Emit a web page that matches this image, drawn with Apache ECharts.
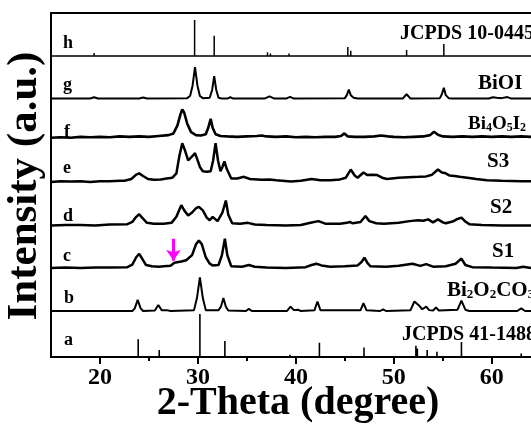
<!DOCTYPE html>
<html>
<head>
<meta charset="utf-8">
<script src="https://cdn.jsdelivr.net/npm/echarts@6/dist/echarts.min.js"></script>
<style>html,body{margin:0;padding:0;background:#fff}#c{width:531px;height:425px}</style>
</head>
<body>
<div id="c"></div>
<script>
// ---------- DATA (2-Theta in degrees, relative intensity per panel) ----------
const panelLetters = ['a','b','c','d','e','f','g','h'];
const panelNames = ['JCPDS 41-1488','Bi2O2CO3','S1','S2','S3','Bi4O5I2','BiOI','JCPDS 10-0445'];
const xTickLabels = [20,30,40,50,60];
const xMinorTicks = [25,35,45,55];

// (a) JCPDS 41-1488 stick pattern
const aPos = [23.9, 26.05, 30.2, 32.75, 35.3, 39.4, 42.4, 46.95, 49.0, 52.25, 52.4, 53.4, 54.4, 56.9, 63.0];
const aInt = [0.41, 0.16, 1.0, 0.37, 0.04, 0.05, 0.33, 0.22, 0.04, 0.26, 0.2, 0.16, 0.12, 0.35, 0.08];

// (h) JCPDS 10-0445 stick pattern
const hPos = [19.4, 24.4, 29.66, 31.66, 33.3, 37.1, 37.4, 39.3, 43.6, 45.3, 45.6, 51.3, 55.1, 60.1, 60.6, 61.6];
const hInt = [0.07, 0.04, 0.84, 0.47, 0.04, 0.09, 0.06, 0.06, 0.03, 0.21, 0.12, 0.14, 0.28, 0.04, 0.03, 0.04];

// (b) Bi2O2CO3
const traceB = [[15,0],[23.3,0],[23.55,0.06],[23.85,0.26],[24.15,0.06],[24.4,0],[25.6,0.01],[25.95,0.14],[26.3,0.02],[26.8,0.02],[27.2,0],[29.6,0.02],[29.9,0.3],[30.2,0.78],[30.5,0.3],[30.8,0.02],[32.1,0.02],[32.35,0.1],[32.6,0.3],[32.85,0.1],[33.1,0.01],[34.9,0],[35.2,0.05],[35.5,0],[39.1,0],[39.45,0.1],[39.8,0.02],[40.2,0.03],[40.5,0],[41.9,0.02],[42.2,0.22],[42.5,0.02],[46.6,0.02],[46.9,0.18],[47.2,0.02],[48.6,0],[48.9,0.04],[49.2,0],[51.7,0.02],[52.1,0.22],[52.6,0.12],[52.9,0.04],[53.3,0.1],[53.6,0.02],[54.0,0.01],[54.3,0.08],[54.6,0.01],[56.5,0.03],[56.9,0.24],[57.3,0.03],[57.7,0],[62.6,0],[63.0,0.06],[63.4,0],[64,0]];

// (c) S1
const traceC = [[15,0],[16.5,0.01],[18,0.0],[19.5,0.01],[21,0.01],[22.8,0.02],[23.3,0.08],[23.7,0.25],[24.0,0.33],[24.3,0.22],[24.7,0.07],[25.3,0.04],[26,0.03],[26.5,0.04],[27.2,0.05],[27.6,0.12],[27.8,0.08],[28.3,0.15],[28.8,0.18],[29.4,0.3],[29.8,0.55],[30.1,0.64],[30.4,0.55],[30.8,0.25],[31.2,0.1],[31.5,0.06],[32.1,0.07],[32.45,0.3],[32.75,0.68],[33.0,0.3],[33.4,0.04],[34.5,0.03],[35.2,0.07],[35.8,0.03],[37,0.01],[39,0],[41,0.02],[41.6,0.07],[42.1,0.1],[42.6,0.06],[43.5,0.03],[45,0.04],[46.3,0.06],[46.7,0.14],[47.0,0.24],[47.3,0.12],[47.6,0.04],[49.2,0.03],[50.5,0.05],[51.9,0.1],[52.7,0.05],[53.3,0.09],[54.0,0.03],[55.3,0.04],[56.3,0.1],[56.9,0.22],[57.3,0.07],[58,0.02],[60,0.01],[62.5,0.0],[63.2,0.03],[64,0]];

// (d) S2
const traceD = [[15,0],[16.5,0.01],[18,0.01],[19.5,0.0],[21,0.02],[22.8,0.03],[23.3,0.08],[23.7,0.2],[24.0,0.26],[24.3,0.18],[24.8,0.06],[25.5,0.04],[26.5,0.04],[27.3,0.06],[27.8,0.2],[28.3,0.47],[28.6,0.35],[29.0,0.23],[29.4,0.3],[29.8,0.4],[30.1,0.43],[30.5,0.35],[30.9,0.18],[31.2,0.12],[31.5,0.2],[31.7,0.23],[32.0,0.1],[32.2,0.09],[32.5,0.3],[32.85,0.58],[33.1,0.25],[33.5,0.05],[34.3,0.04],[35.1,0.06],[35.8,0.02],[37,0.01],[39,0.0],[40.5,0.01],[41.5,0.06],[42.3,0.1],[43,0.04],[44.5,0.04],[45.2,0.06],[45.5,0.08],[45.8,0.05],[46.6,0.08],[47.1,0.22],[47.5,0.1],[48.2,0.05],[49,0.04],[50.5,0.06],[51.6,0.1],[52.5,0.12],[53.0,0.11],[53.5,0.14],[54.0,0.07],[54.5,0.14],[55.0,0.07],[55.3,0.05],[56.0,0.09],[56.5,0.15],[56.9,0.18],[57.3,0.09],[57.7,0.03],[59,0.01],[61,0.0],[63,0.0],[64,0.0]];

// (e) S3
const traceE = [[15,0.0],[16,0.02],[17,0.01],[18,0.02],[19,0.0],[20,0.02],[21,0.02],[22,0.03],[22.5,0.03],[23.2,0.07],[23.7,0.17],[24.0,0.2],[24.4,0.14],[24.9,0.07],[25.5,0.05],[26.2,0.06],[26.8,0.08],[27.4,0.1],[27.8,0.2],[28.1,0.6],[28.4,0.9],[28.7,0.72],[29.0,0.5],[29.2,0.48],[29.5,0.62],[29.7,0.67],[29.9,0.55],[30.2,0.35],[30.5,0.25],[30.9,0.24],[31.3,0.25],[31.55,0.5],[31.8,0.9],[32.05,0.5],[32.3,0.25],[32.5,0.35],[32.7,0.48],[32.95,0.3],[33.4,0.08],[34.0,0.08],[34.7,0.12],[35.3,0.07],[36.5,0.05],[37.3,0.06],[38,0.04],[39.5,0.01],[40.5,0.03],[41.6,0.07],[42.5,0.04],[43.5,0.04],[44.5,0.06],[45.1,0.1],[45.6,0.29],[46.0,0.15],[46.3,0.1],[46.9,0.22],[47.3,0.16],[47.7,0.17],[48.3,0.16],[48.8,0.1],[49.3,0.07],[50.5,0.1],[51.5,0.11],[52.5,0.12],[53.3,0.13],[53.9,0.17],[54.5,0.29],[54.9,0.22],[55.2,0.21],[55.7,0.15],[56.2,0.14],[56.7,0.12],[57.5,0.1],[58.4,0.07],[59.5,0.04],[61,0.03],[63,0.02],[64,0.02]];

// (f) Bi4O5I2
const traceF = [[15,0.02],[16,0.03],[17,0.02],[18,0.04],[19,0.03],[20,0.04],[21,0.03],[22,0.05],[23,0.04],[24,0.05],[25,0.04],[26,0.06],[27,0.08],[27.5,0.12],[27.9,0.3],[28.2,0.55],[28.4,0.68],[28.6,0.6],[28.9,0.35],[29.3,0.15],[29.8,0.08],[30.3,0.07],[30.8,0.1],[31.05,0.25],[31.3,0.46],[31.5,0.25],[31.8,0.1],[32.3,0.06],[33,0.05],[34,0.04],[35,0.05],[36,0.06],[36.5,0.07],[37,0.05],[38,0.04],[39,0.05],[40,0.03],[41,0.04],[42,0.03],[43,0.04],[44,0.04],[44.6,0.06],[44.95,0.12],[45.3,0.05],[46,0.04],[47,0.04],[48,0.05],[48.7,0.07],[49.4,0.05],[50,0.04],[51,0.03],[52,0.04],[53,0.05],[53.7,0.08],[54.1,0.16],[54.5,0.09],[55,0.05],[56,0.04],[57,0.05],[58,0.04],[59,0.05],[60,0.04],[61,0.05],[62,0.04],[63,0.05],[64,0.04]];

// (g) BiOI
const traceG = [[15,0],[19.0,0],[19.4,0.03],[19.8,0],[24.0,0],[24.4,0.025],[24.8,0],[28.9,0.01],[29.2,0.06],[29.45,0.3],[29.7,0.73],[29.95,0.3],[30.2,0.06],[30.5,0.01],[31.2,0.02],[31.45,0.2],[31.66,0.52],[31.87,0.2],[32.1,0.02],[32.4,0],[33.0,0],[33.3,0.03],[33.6,0],[36.8,0],[37.3,0.05],[37.8,0],[39.0,0],[39.4,0.04],[39.8,0],[45.0,0.01],[45.2,0.08],[45.4,0.21],[45.6,0.08],[45.9,0.02],[46.3,0],[50.9,0],[51.3,0.1],[51.7,0],[54.7,0.01],[54.9,0.1],[55.1,0.25],[55.3,0.08],[55.6,0.01],[56,0],[59.7,0],[60.1,0.03],[60.5,0.02],[61.0,0.01],[61.6,0.035],[62.0,0],[64,0]];

// marker arrow on S1 (2-Theta position)
const arrowTheta = 27.5;

// ---------- LAYOUT ----------
const X_MIN = 15, X_MAX = 64;
const panelBase = [0, 1.07, 2.07, 3.06, 4.07, 5.08, 6.01, 7.0];
const SERIF = '"Liberation Serif","Times New Roman",serif';

function stickData(pos, inten, base) {
  const d = [[X_MIN, base]];
  for (let i = 0; i < pos.length; i++) {
    d.push([pos[i], base], [pos[i], base + inten[i]], [pos[i], base]);
  }
  d.push([X_MAX, base]);
  return d;
}
function shift(trace, base) { return trace.map(p => [p[0], p[1] + base]); }

const lineSeries = (data, width) => ({
  type: 'line', data, showSymbol: false, symbol: 'none', silent: true,
  lineStyle: { color: '#000', width }, z: 3, clip: true
});

const sC = lineSeries(shift(traceC, panelBase[2]), 2.5);
sC.markLine = {
  silent: true, symbol: ['none', 'arrow'], symbolSize: [11, 11],
  label: { show: false },
  lineStyle: { color: '#ff00ff', width: 3, type: 'solid' },
  data: [[{ coord: [arrowTheta, panelBase[2] + 0.68] }, { coord: [arrowTheta, panelBase[2] + 0.17] }]]
};

const series = [
  lineSeries(stickData(aPos, aInt, panelBase[0]), 1.6),
  lineSeries(shift(traceB, panelBase[1]), 2),
  sC,
  lineSeries(shift(traceD, panelBase[3]), 2.5),
  lineSeries(shift(traceE, panelBase[4]), 2.5),
  lineSeries(shift(traceF, panelBase[5]), 2.6),
  lineSeries(shift(traceG, panelBase[6]), 2),
  lineSeries(stickData(hPos, hInt, panelBase[7]), 1.5)
];

// letter labels (left) and names (right): [x, text baseline y]
const letterPos = [[64,345],[64,303],[63,261],[63,221],[63,173],[64,137],[63,90],[63,48]];
const namePos = [[402,341],[447,297],[492,258],[490,214],[487,168],[468,130],[478,90],[400,40]];
const nameSize = [20,21,21,21,21,19,21,20];
const graphics = [];
panelLetters.forEach((t, i) => {
  graphics.push({ type: 'text', x: letterPos[i][0], y: letterPos[i][1] - 14, silent: true,
    style: { text: t, font: 'bold 18px ' + SERIF, fill: '#000', textAlign: 'left', textVerticalAlign: 'top' } });
});
panelNames.forEach((t, i) => {
  const isChem = /^Bi/.test(t);
  const fs = nameSize[i];
  const txt = '{n|' + t.replace(/(\d)/g, '}{s|$1}{n|') + '}';
  graphics.push({ type: 'text', x: namePos[i][0], y: isChem ? namePos[i][1] + 4 : namePos[i][1] - Math.round(fs * 0.8), silent: true,
    style: isChem ? {
      text: txt, textAlign: 'left', textVerticalAlign: 'bottom',
      rich: { n: { font: 'bold ' + fs + 'px ' + SERIF, fill: '#000', verticalAlign: 'bottom' },
              s: { font: 'bold ' + Math.round(fs * 0.62) + 'px ' + SERIF, fill: '#000', verticalAlign: 'bottom' } }
    } : { text: t, font: 'bold ' + fs + 'px ' + SERIF, fill: '#000', textAlign: 'left', textVerticalAlign: 'top' } });
});
graphics.push({ type: 'text', x: 25, y: 186, rotation: Math.PI / 2, silent: true,
  style: { text: 'Intensity (a.u.)', font: 'bold 43px ' + SERIF, fill: '#000', textAlign: 'center', textVerticalAlign: 'middle' } });
graphics.push({ type: 'text', x: 298, y: 404, silent: true,
  style: { text: '2-Theta (degree)', font: 'bold 40px ' + SERIF, fill: '#000', textAlign: 'center', textVerticalAlign: 'middle' } });

const chart = echarts.init(document.getElementById('c'), null, { renderer: 'canvas' });
chart.setOption({
  animation: false,
  backgroundColor: '#fff',
  grid: { left: 51, right: 0, top: 13, bottom: 68, containLabel: false },
  xAxis: [
    { type: 'value', min: X_MIN, max: X_MAX, position: 'bottom',
      axisLine: { show: true, onZero: false, lineStyle: { color: '#000', width: 2 } },
      axisTick: { show: true, customValues: xTickLabels, length: 7, lineStyle: { color: '#000', width: 2 } },
      axisLabel: { show: true, customValues: xTickLabels, margin: 9, color: '#000', fontFamily: SERIF, fontWeight: 'bold', fontSize: 24 },
      splitLine: { show: false } },
    { type: 'value', min: X_MIN, max: X_MAX, position: 'bottom',
      axisLine: { show: false, onZero: false },
      axisTick: { show: true, customValues: xMinorTicks, length: 4, lineStyle: { color: '#000', width: 2 } },
      axisLabel: { show: false }, splitLine: { show: false } },
    { type: 'value', min: X_MIN, max: X_MAX, position: 'top',
      axisLine: { show: true, onZero: false, lineStyle: { color: '#000', width: 2 } },
      axisTick: { show: false }, axisLabel: { show: false }, splitLine: { show: false } }
  ],
  yAxis: { type: 'value', min: 0, max: 8,
    axisLine: { show: true, onZero: false, lineStyle: { color: '#000', width: 2 } },
    axisTick: { show: false }, axisLabel: { show: false }, splitLine: { show: false } },
  series,
  graphic: graphics
});
</script>
</body>
</html>
